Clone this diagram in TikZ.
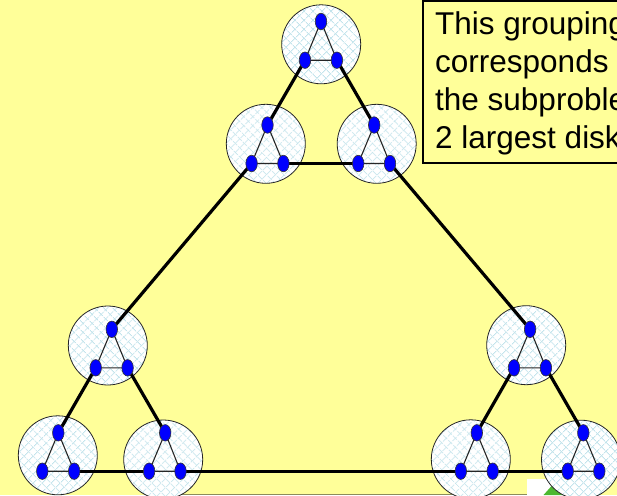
\documentclass[tikz,border=0pt]{standalone}
\usepackage{fontspec}
\setmainfont{Liberation Sans}
\usetikzlibrary{shapes.geometric,patterns.meta}
\definecolor{bgyellow}{RGB}{255,255,153}
\definecolor{hatchblue}{RGB}{195,228,236}
\definecolor{vblue}{RGB}{0,0,255}
\definecolor{artgreen}{RGB}{76,184,48}
\definecolor{artline}{RGB}{140,140,90}
\pgfdeclarelayer{back}
\pgfdeclarelayer{bg}
\pgfdeclarelayer{edges}
\pgfsetlayers{back,bg,edges,main}
\tikzset{
  grp/.style={circle,minimum size=79pt,inner sep=0pt,draw=black!85,line width=0.8pt,
    preaction={fill=white},
    preaction={pattern={Lines[angle=45,distance=6.5pt,line width=0.9pt]},pattern color=hatchblue},
    pattern={Lines[angle=-45,distance=6.5pt,line width=0.9pt]},pattern color=hatchblue},
  vtx/.style={ellipse,minimum width=11.5pt,minimum height=16.5pt,inner sep=0pt,
    fill=vblue,draw=black!80,line width=0.6pt},
  thin/.style={draw=black!85,line width=1.1pt},
  thick/.style={draw=black,line width=3.2pt},
  txt/.style={anchor=base west,inner sep=0pt,font=\fontsize{31.5}{37}\selectfont}
}
\begin{document}
\begin{tikzpicture}[x=1pt,y=-1pt]
\useasboundingbox (0,0) rectangle (617,495);
\begin{pgfonlayer}{back}
\fill[bgyellow] (0,0) rectangle (617,495);
% bottom artifacts
\fill[white] (526.7,479) rectangle (565,495);
\fill[artgreen] (543.5,495) -- (556,481) -- (572,495) -- cycle;
\draw[artline,line width=0.9pt] (180,494.3) -- (526.7,494.3);
% text box
\draw[black,line width=2pt] (423.3,1) rectangle (640,163.3);
\end{pgfonlayer}
\node[txt] (t1) at (435,34.3) {This grouping};
\node[txt] (t2) at (435,72.5) {corresponds};
\node[txt] (t3) at (435,110.3) {the subproble};
\node[txt] (t4) at (435,148) {2 largest disk};
% group circles
\begin{pgfonlayer}{bg}
\node[grp] (cT) at (321.2,44.3) {};
\node[grp] (cL2) at (265.8,143.8) {};
\node[grp] (cR2) at (376.7,143.8) {};
\node[grp] (cL3) at (107.8,345.5) {};
\node[grp] (cR3) at (526.2,345.2) {};
\node[grp] (cL4a) at (57.8,455.3) {};
\node[grp] (cL4b) at (163.2,459.5) {};
\node[grp] (cR4a) at (470.8,459.3) {};
\node[grp] (cR4b) at (581,459.7) {};
\end{pgfonlayer}
% vertices
\node[vtx] (T1) at (321,21.5) {};
\node[vtx] (T2) at (305,60.2) {};
\node[vtx] (T3) at (336.9,60.2) {};
\node[vtx] (A1) at (267.5,125) {};
\node[vtx] (A2) at (251.6,163.5) {};
\node[vtx] (A3) at (283.4,163.5) {};
\node[vtx] (B1) at (374.2,125) {};
\node[vtx] (B2) at (358.2,163.5) {};
\node[vtx] (B3) at (390,163.5) {};
\node[vtx] (C1) at (111.8,329.3) {};
\node[vtx] (C2) at (95.7,367.8) {};
\node[vtx] (C3) at (127.6,367.8) {};
\node[vtx] (D1) at (530.1,329.3) {};
\node[vtx] (D2) at (514,367.8) {};
\node[vtx] (D3) at (545.9,367.8) {};
\node[vtx] (E1) at (58.3,432.8) {};
\node[vtx] (E2) at (42.3,471.2) {};
\node[vtx] (E3) at (74.2,471.2) {};
\node[vtx] (F1) at (165.2,432.8) {};
\node[vtx] (F2) at (149.1,471.2) {};
\node[vtx] (F3) at (180.5,471.2) {};
\node[vtx] (G1) at (476.8,432.8) {};
\node[vtx] (G2) at (460.8,471.2) {};
\node[vtx] (G3) at (492.7,471.2) {};
\node[vtx] (H1) at (583.3,432.8) {};
\node[vtx] (H2) at (567.7,471.2) {};
\node[vtx] (H3) at (599.3,471.2) {};
\begin{pgfonlayer}{edges}
% inner thin edges
\foreach \g in {T,A,B,C,D,E,F,G,H}{
  \draw[thin] (\g1.center) -- (\g2.center) -- (\g3.center) -- cycle;
}
% thick connectors
\draw[thick] (T2.center) -- (A1.center);
\draw[thick] (T3.center) -- (B1.center);
\draw[thick] (A3.center) -- (B2.center);
\draw[thick] (A2.center) -- (C1.center);
\draw[thick] (B3.center) -- (D1.center);
\draw[thick] (C2.center) -- (E1.center);
\draw[thick] (C3.center) -- (F1.center);
\draw[thick] (E3.center) -- (F2.center);
\draw[thick] (F3.center) -- (G2.center);
\draw[thick] (D2.center) -- (G1.center);
\draw[thick] (D3.center) -- (H1.center);
\draw[thick] (G3.center) -- (H2.center);
\end{pgfonlayer}
\end{tikzpicture}
\end{document}
